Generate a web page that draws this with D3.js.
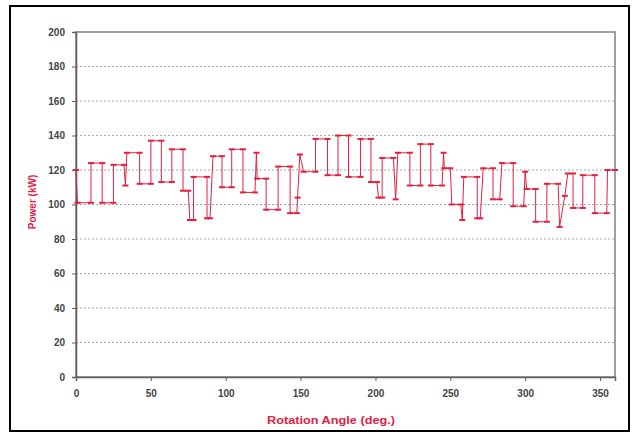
<!DOCTYPE html>
<html><head><meta charset="utf-8">
<script src="https://cdn.jsdelivr.net/npm/d3@7"></script>
<style>body{margin:0;background:#fff}svg{display:block}</style>
</head><body>
<svg id="c" width="637" height="435"></svg>
<script>
const angles = [0,1,10,10,17.5,17.5,25,25,32,33,34,42.5,42.5,50,50,57,57,64,64,71.5,71.5,75,76,78.5,78.5,87.5,87.5,89.5,91.5,97.5,97.5,104,104,111.5,111.5,119.5,120.5,121,127,127,135,135,143,143,147.5,148,149.5,152,160,160,168,168,175,175,182,182,190,190,197,197,201,202,204.5,204.5,212,213.5,215,223,223,230,230,237,237,244.5,245.5,246,250,251,257,258,259,268,268,270,272,278.5,278.5,283,284.5,292,292,299,300,301,307,307,314.5,314.5,322,323,326.5,328.5,332,332,338.5,338.5,346.5,346.5,354.5,355,360];
const power = [120,101,101,124,124,101,101,123,123,111,130,130,112,112,137,137,113,113,132,132,108,108,91,91,116,116,92,92,128,128,110,110,132,132,107,107,130,115,115,97,97,122,122,95,95,104,129,119,119,138,138,117,117,140,140,116,116,138,138,113,113,104,104,127,127,103,130,130,111,111,135,135,111,111,130,121,121,100,100,91,116,116,92,92,121,121,103,103,124,124,99,99,119,109,109,90,90,112,112,87,105,118,118,98,98,117,117,95,95,120,120];
const yTicks = [0,20,40,60,80,100,120,140,160,180,200];
const xTicks = [0,50,100,150,200,250,300,350];

const svg = d3.select('#c');
const m = {l:76, t:32, r:615, b:377};
const x = d3.scaleLinear().domain([0,360]).range([m.l, m.r]);
const y = d3.scaleLinear().domain([0,200]).range([m.b, m.t]);
const red = '#e3203f';
const font = 'Liberation Sans, Arial, sans-serif';

svg.append('rect').attr('x',10).attr('y',6).attr('width',619).attr('height',425)
  .attr('fill','#fff').attr('stroke','#000').attr('stroke-width',2);

// grid
svg.append('g').selectAll('line').data(yTicks.filter(v=>v>0&&v<200)).join('line')
  .attr('x1',m.l).attr('x2',m.r).attr('y1',d=>y(d)).attr('y2',d=>y(d))
  .attr('stroke','#a8a8a8').attr('stroke-width',1).attr('stroke-dasharray','2,2');

// plot box
svg.append('rect').attr('x',m.l).attr('y',m.t).attr('width',m.r-m.l).attr('height',m.b-m.t)
  .attr('fill','none').attr('stroke','#808080').attr('stroke-width',1.5);

const yAxis = svg.append('g').attr('transform',`translate(${m.l},0)`)
  .call(d3.axisLeft(y).tickValues(yTicks).tickSize(4).tickPadding(7));
const xAxis = svg.append('g').attr('transform',`translate(0,${m.b})`)
  .call(d3.axisBottom(x).tickValues(xTicks).tickSize(4).tickPadding(9));
[yAxis,xAxis].forEach(a=>{
  a.select('.domain').attr('stroke','#606060').attr('stroke-width',1.5);
  a.selectAll('.tick line').attr('stroke','#606060');
  a.selectAll('.tick text').attr('fill','#444').attr('font-family',font)
   .attr('font-size',10).attr('font-weight','bold');
});

const pts = angles.map((a,i)=>[a,power[i]]);
svg.append('path').datum(pts)
  .attr('d', d3.line().x(d=>x(d[0])).y(d=>y(d[1])))
  .attr('fill','none').attr('stroke',red).attr('stroke-width',1);
svg.append('g').selectAll('rect').data(pts).join('rect')
  .attr('x',d=>x(d[0])-3).attr('y',d=>y(d[1])-1).attr('width',6).attr('height',2)
  .attr('fill',red);

svg.append('text').attr('x',331).attr('y',424).attr('text-anchor','middle')
  .attr('font-family',font).attr('font-size',11).attr('font-weight','bold')
  .attr('textLength',128).attr('lengthAdjust','spacingAndGlyphs')
  .attr('fill',red).text('Rotation Angle (deg.)');
svg.append('text').attr('transform','translate(36,202) rotate(-90)').attr('text-anchor','middle')
  .attr('font-family',font).attr('font-size',10).attr('font-weight','bold')
  .attr('fill',red).text('Power (kW)');
</script>
</body></html>
